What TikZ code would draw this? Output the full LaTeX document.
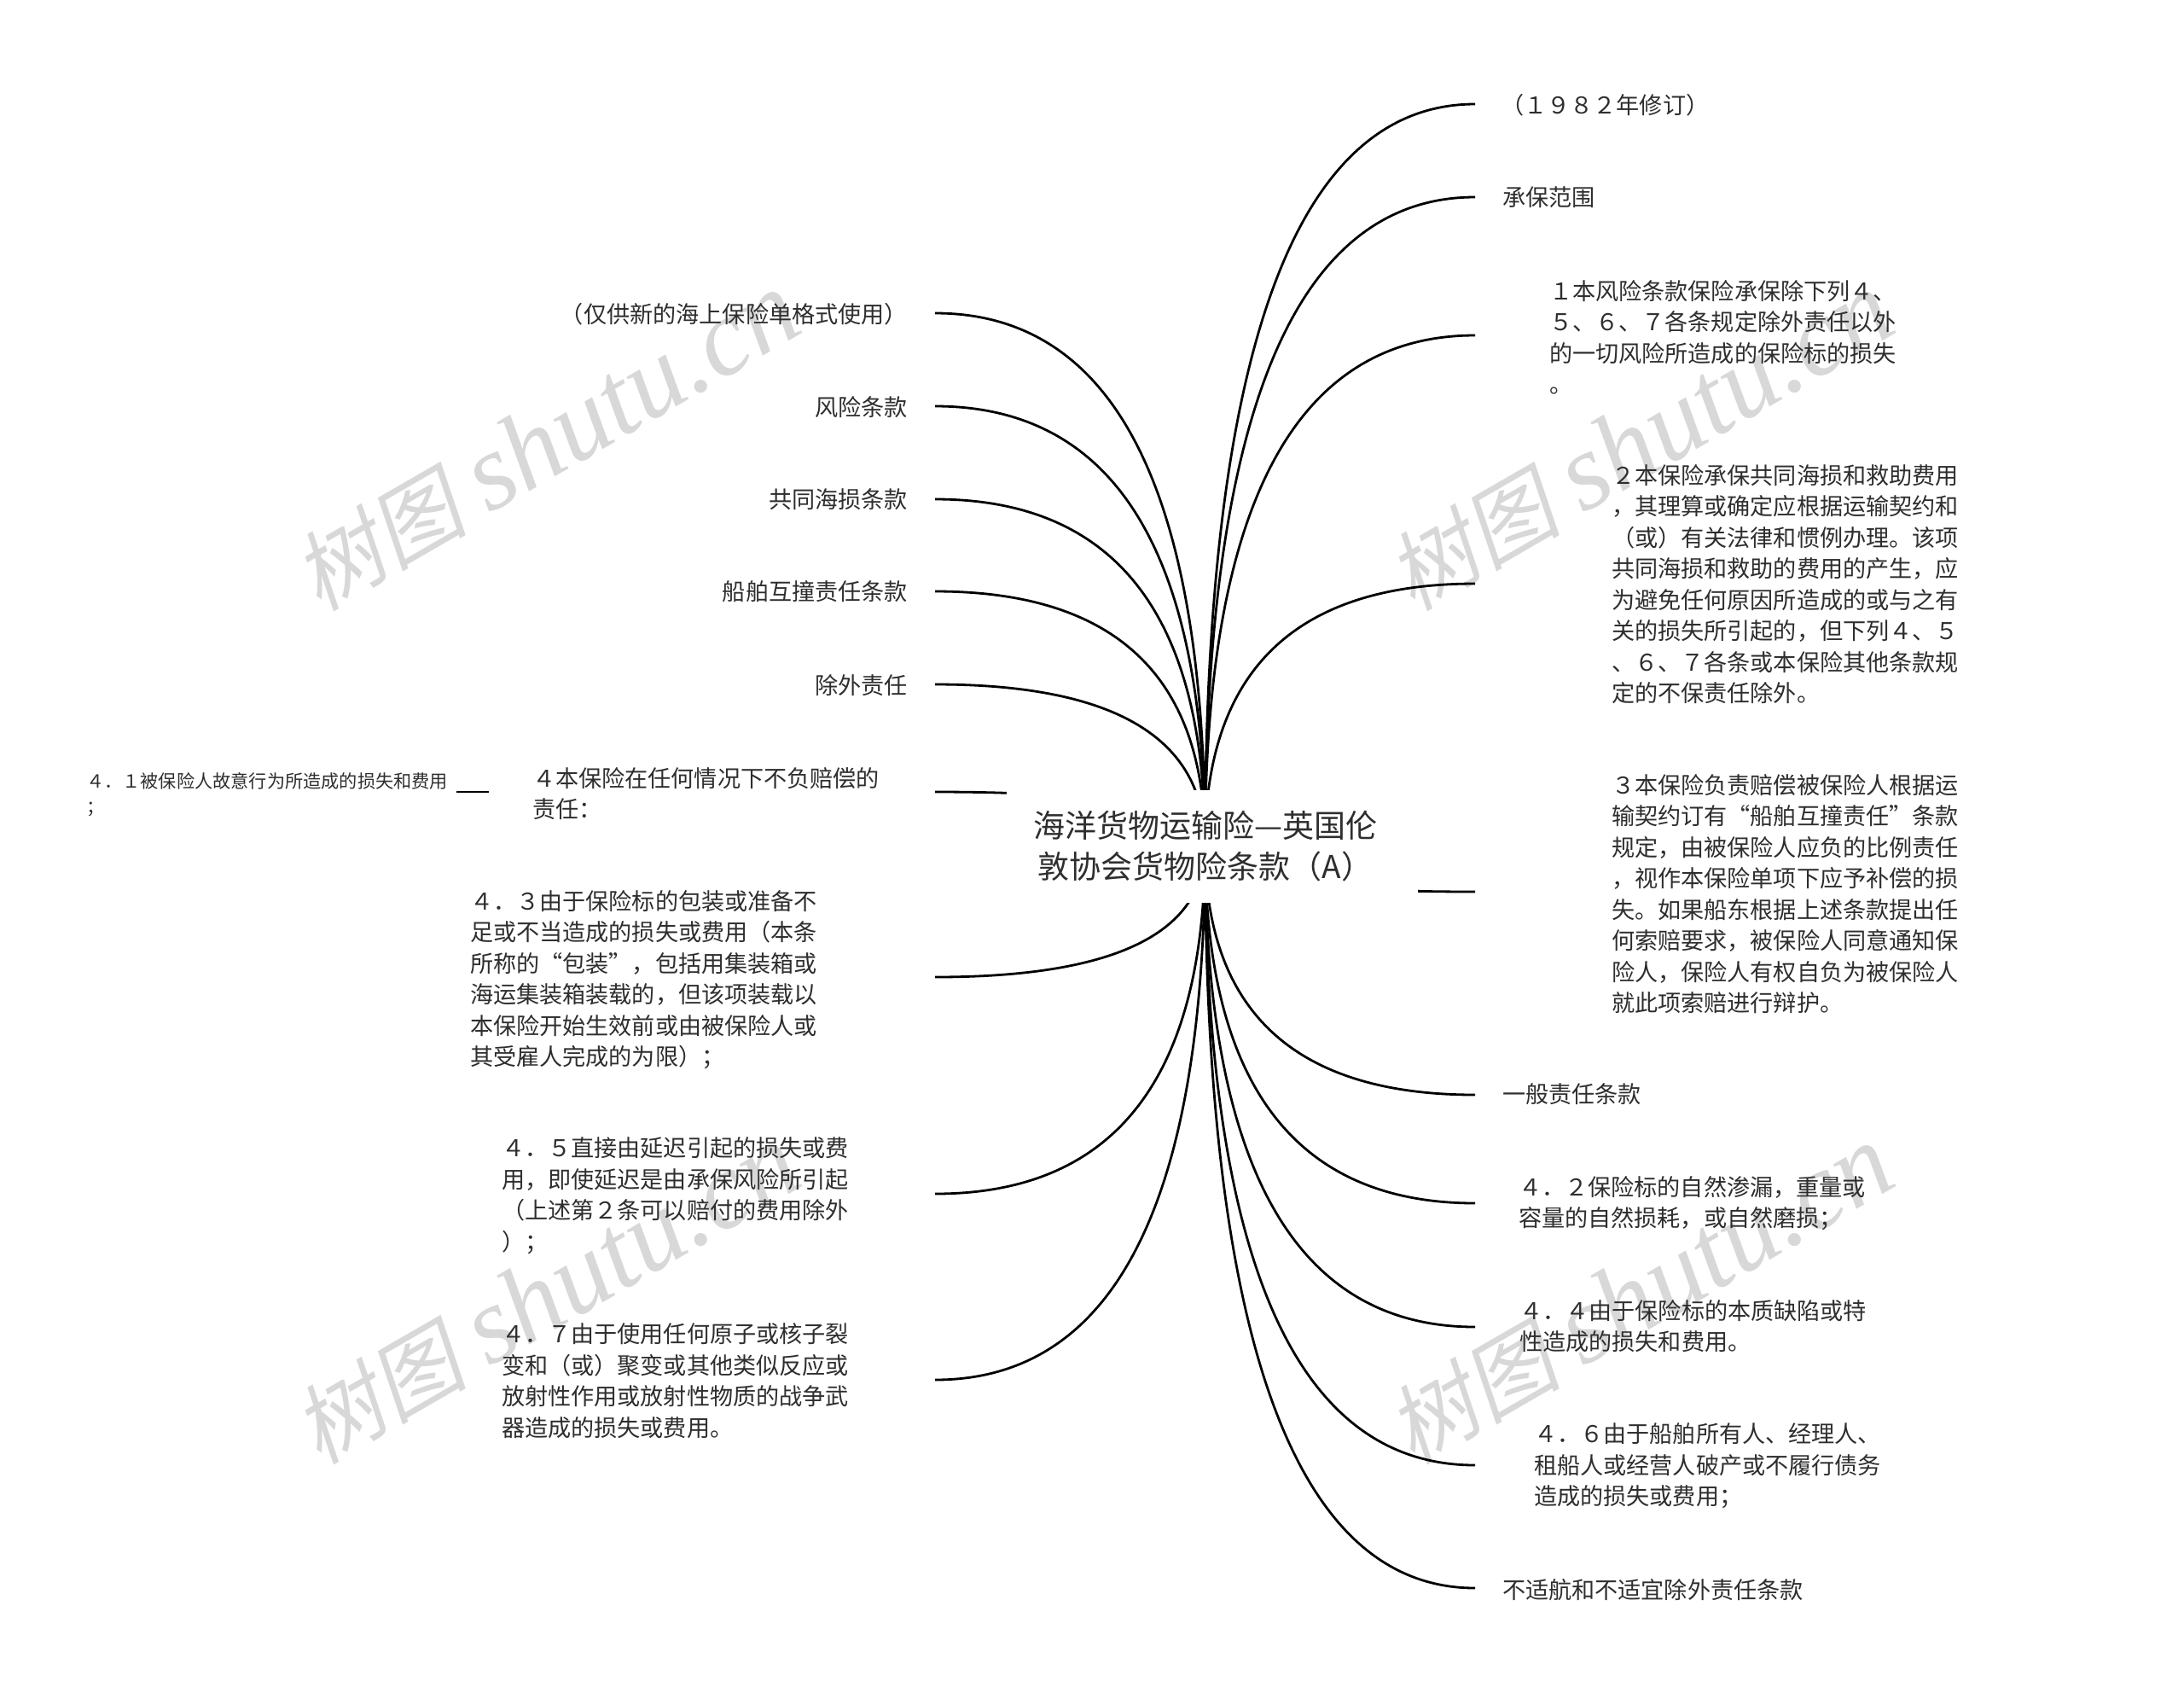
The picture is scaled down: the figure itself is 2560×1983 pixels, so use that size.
\documentclass[tikz,border=0pt]{standalone}
\usepackage{fontspec}
\usetikzlibrary{calc}
\newfontfamily\cjk{Noto Sans CJK SC}
\newfontfamily\wmcjk[FakeSlant=0.2]{Noto Sans CJK SC}
\newfontfamily\wmlat{Liberation Serif}
\definecolor{txtc}{HTML}{2E2E2E}
\definecolor{wmc}{HTML}{D8D8D8}
\newcommand{\wmtext}{{\wmcjk\fontsize{51}{60}\selectfont 树图}\hspace{13pt}{\wmlat\itshape shutu.cn}}
\tikzset{
  txt/.style={inner sep=0pt,outer sep=0pt,align=left,anchor=north west,yshift=6pt,text=txtc,font=\fontsize{13.57}{18.25}\selectfont\cjk},
  txtr/.style={txt,anchor=north east},
  txts/.style={inner sep=0pt,outer sep=0pt,align=left,anchor=north west,yshift=4.25pt,text=txtc,font=\fontsize{10.6}{15}\selectfont\cjk},
  rootbox/.style={fill=white,inner sep=0pt,outer sep=0pt,align=center,text=txtc,minimum width=241pt,minimum height=66pt,font=\fontsize{18.5}{23.7}\selectfont\cjk},
  wmark/.style={inner sep=0pt,rotate=30,text=wmc,font=\fontsize{64}{66}\selectfont},
  conn/.style={draw=black,line width=1.4pt,line cap=butt}
}
\newcommand{\curve}[2]{\path[conn] let \p1=(#1),\p2=(#2) in (\p1) .. controls (\x1,{\y1+(\y2-\y1)*0.6667}) and ({\x2+(\x1-\x2)*0.6667},\y2) .. (\p2);}
\begin{document}
\begin{tikzpicture}[x=0.5pt,y=-0.5pt]
\useasboundingbox (0,0) rectangle (2560,1983);
\fill[white] (0,0) rectangle (2560,1983);
% watermarks
\node[wmark] (wm1) at (640,518) {\wmtext};
\node[wmark] (wm2) at (1922,518) {\wmtext};
\node[wmark] (wm3) at (640,1518) {\wmtext};
\node[wmark] (wm4) at (1922,1518) {\wmtext};
% connector anchor points
\coordinate (rootC) at (1412.5,991);
\coordinate (eR1) at (1729,122);
\coordinate (eR2) at (1729,231);
\coordinate (eR3) at (1729,393);
\coordinate (eR4) at (1729,684);
\coordinate (eR5) at (1729,1045);
\coordinate (eR6) at (1729,1283);
\coordinate (eR7) at (1729,1410);
\coordinate (eR8) at (1729,1555);
\coordinate (eR9) at (1729,1717);
\coordinate (eR10) at (1729,1861);
\coordinate (eL1) at (1096,367);
\coordinate (eL2) at (1096,476);
\coordinate (eL3) at (1096,585);
\coordinate (eL4) at (1096,693);
\coordinate (eL5) at (1096,802);
\coordinate (eL6) at (1096,928);
\coordinate (eL7) at (1096,1145);
\coordinate (eL8) at (1096,1399);
\coordinate (eL9) at (1096,1617);
\coordinate (e41a) at (573,928);
\coordinate (e41b) at (535,928);
% connectors
\curve{rootC}{eR1}\curve{rootC}{eR2}\curve{rootC}{eR3}\curve{rootC}{eR4}
\curve{rootC}{eR5}\curve{rootC}{eR6}\curve{rootC}{eR7}\curve{rootC}{eR8}\curve{rootC}{eR9}\curve{rootC}{eR10}
\curve{rootC}{eL1}\curve{rootC}{eL2}\curve{rootC}{eL3}\curve{rootC}{eL4}\curve{rootC}{eL5}\curve{rootC}{eL6}
\curve{rootC}{eL7}\curve{rootC}{eL8}\curve{rootC}{eL9}
\draw[conn] (e41a) -- (e41b);
% root
\node[rootbox] (root) at (1421,991.5) {海洋货物运输险—英国伦\hspace*{8pt}\\敦协会货物险条款（A）\hspace*{8pt}};
% right
\node[txt] (r1) at (1759,122) {（１９８２年修订）};
\node[txt] (r2) at (1761,231) {承保范围};
\node[txt] (r3) at (1816,340) {１本风险条款保险承保除下列４、\\５、６、７各条规定除外责任以外\\的一切风险所造成的保险标的损失\\。};
\node[txt] (r4) at (1889,556) {２本保险承保共同海损和救助费用\\，其理算或确定应根据运输契约和\\（或）有关法律和惯例办理。该项\\共同海损和救助的费用的产生，应\\为避免任何原因所造成的或与之有\\关的损失所引起的，但下列４、５\\、６、７各条或本保险其他条款规\\定的不保责任除外。};
\node[txt] (r5) at (1889,919) {３本保险负责赔偿被保险人根据运\\输契约订有“船舶互撞责任”条款\\规定，由被保险人应负的比例责任\\，视作本保险单项下应予补偿的损\\失。如果船东根据上述条款提出任\\何索赔要求，被保险人同意通知保\\险人，保险人有权自负为被保险人\\就此项索赔进行辩护。};
\node[txt] (r6) at (1761,1282) {一般责任条款};
\node[txt] (r7) at (1780,1390) {４．２保险标的自然渗漏，重量或\\容量的自然损耗，或自然磨损；};
\node[txt] (r8) at (1781,1535) {４．４由于保险标的本质缺陷或特\\性造成的损失和费用。};
\node[txt] (r9) at (1798,1680) {４．６由于船舶所有人、经理人、\\租船人或经营人破产或不履行债务\\造成的损失或费用；};
\node[txt] (r10) at (1761,1862) {不适航和不适宜除外责任条款};
% left
\node[txtr] (l1) at (1064,367) {（仅供新的海上保险单格式使用）};
\node[txtr] (l2) at (1064,476) {风险条款};
\node[txtr] (l3) at (1064,585) {共同海损条款};
\node[txtr] (l4) at (1064,693) {船舶互撞责任条款};
\node[txtr] (l5) at (1064,802) {除外责任};
\node[txt] (l6) at (624,911) {４本保险在任何情况下不负赔偿的\\责任：};
\node[txts] (l6a) at (101,914) {４．１被保险人故意行为所造成的损失和费用\\；};
\node[txt] (l7) at (551,1055) {４．３由于保险标的包装或准备不\\足或不当造成的损失或费用（本条\\所称的“包装”，包括用集装箱或\\海运集装箱装载的，但该项装载以\\本保险开始生效前或由被保险人或\\其受雇人完成的为限）；};
\node[txt] (l8) at (588,1345) {４．５直接由延迟引起的损失或费\\用，即使延迟是由承保风险所引起\\（上述第２条可以赔付的费用除外\\）；};
\node[txt] (l9) at (588,1563) {４．７由于使用任何原子或核子裂\\变和（或）聚变或其他类似反应或\\放射性作用或放射性物质的战争武\\器造成的损失或费用。};
\end{tikzpicture}
\end{document}
